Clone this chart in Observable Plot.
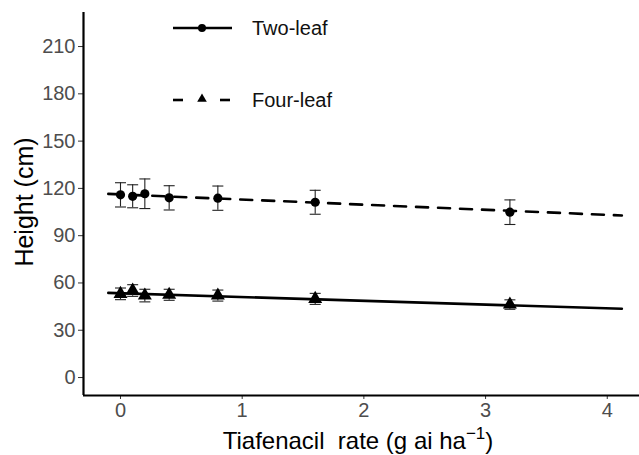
<!DOCTYPE html>
<html><head><meta charset="utf-8">
<script src="https://cdn.jsdelivr.net/npm/d3@7"></script>
<script src="https://cdn.jsdelivr.net/npm/@observablehq/plot@0.6"></script>
<style>body{margin:0;background:#fff;} svg{font-family:"Liberation Sans",Arial,sans-serif;}</style>
</head><body><div id="chart"></div>
<script>
const xVals = [0, 0.1, 0.2, 0.4, 0.8, 1.6, 3.2];
const circleMean = [115.9, 115.0, 116.6, 114.0, 113.8, 111.2, 104.9];
const circleErr = [7.7, 7.3, 9.4, 7.7, 7.7, 7.6, 7.8];
const triMean = [53.1, 55.2, 52.0, 52.5, 52.0, 49.9, 46.3];
const triErr = [3.7, 3.7, 4.0, 3.5, 3.5, 3.5, 3.0];
const fitX = [-0.1, 4.12];
const circleFit = [116.5, 102.8];
const triFit = [53.7, 43.6];
const xTicks = [0, 1, 2, 3, 4];
const yTicks = [0, 30, 60, 90, 120, 150, 180, 210];
const xDomain = [-0.304, 4.265];
const yDomain = [-11.4, 231.6];

const circ = xVals.map((x, i) => ({x, y: circleMean[i], lo: circleMean[i] - circleErr[i], hi: circleMean[i] + circleErr[i]}));
const tri = xVals.map((x, i) => ({x, y: triMean[i], lo: triMean[i] - triErr[i], hi: triMean[i] + triErr[i]}));
const circLine = fitX.map((x, i) => ({x, y: circleFit[i]}));
const triLine = fitX.map((x, i) => ({x, y: triFit[i]}));

const cap = {draw(ctx, size) { const w = 5.5; ctx.moveTo(-w, 0); ctx.lineTo(w, 0); }};
const errColor = "#222";

const chart = Plot.plot({
  width: 639, height: 455,
  marginLeft: 83, marginTop: 12, marginBottom: 60, marginRight: 0,
  x: {domain: xDomain},
  y: {domain: yDomain},
  marks: [
    Plot.axisY({ticks: yTicks, tickSize: 5, tickPadding: 3, fontSize: 20, fill: "#4d4d4d", stroke: "#333", label: null, tickFormat: d3.format("d")}),
    Plot.axisX({ticks: xTicks, tickSize: 4, tickPadding: 3, fontSize: 20, fill: "#4d4d4d", stroke: "#333", label: null, tickFormat: d3.format("d")}),
    Plot.line(circLine, {x: "x", y: "y", stroke: "black", strokeWidth: 2.6, strokeDasharray: "12,10"}),
    Plot.line(triLine, {x: "x", y: "y", stroke: "black", strokeWidth: 2.6}),
    Plot.ruleX(circ, {x: "x", y1: "lo", y2: "hi", stroke: errColor, strokeWidth: 1.1}),
    Plot.dot(circ, {x: "x", y: "lo", symbol: cap, stroke: errColor, strokeWidth: 1.1}),
    Plot.dot(circ, {x: "x", y: "hi", symbol: cap, stroke: errColor, strokeWidth: 1.1}),
    Plot.ruleX(tri, {x: "x", y1: "lo", y2: "hi", stroke: errColor, strokeWidth: 1.1}),
    Plot.dot(tri, {x: "x", y: "lo", symbol: cap, stroke: errColor, strokeWidth: 1.1}),
    Plot.dot(tri, {x: "x", y: "hi", symbol: cap, stroke: errColor, strokeWidth: 1.1}),
    Plot.dot(circ, {x: "x", y: "y", r: 4.6, fill: "black", stroke: "none"}),
    Plot.dot(tri, {x: "x", y: "y", r: 5.2, symbol: "triangle", fill: "black", stroke: "none"}),
    Plot.ruleX([xDomain[0]], {stroke: "black", strokeWidth: 2.2}),
    Plot.ruleY([yDomain[0]], {stroke: "black", strokeWidth: 2.2})
  ]
});

const svg = d3.select(chart);
// y axis title
svg.append("text").attr("transform", "translate(33,202) rotate(-90)")
  .attr("text-anchor", "middle").attr("font-size", 25).attr("fill", "black").text("Height (cm)");
// x axis title
const xt = svg.append("text").attr("x", 358).attr("y", 449).attr("text-anchor", "middle")
  .attr("font-size", 24).attr("fill", "black");
xt.append("tspan").text("Tiafenacil\u00a0 rate (g ai ha");
xt.append("tspan").attr("dy", -10).attr("font-size", 17).text("\u22121");
xt.append("tspan").attr("dy", 10).text(")");
// legend
const lg = svg.append("g").attr("text-anchor", "start");
lg.append("line").attr("x1", 173).attr("x2", 232).attr("y1", 28).attr("y2", 28).attr("stroke", "black").attr("stroke-width", 2.6);
lg.append("circle").attr("cx", 202).attr("cy", 28).attr("r", 4).attr("fill", "black");
lg.append("text").attr("x", 252).attr("y", 28).attr("dy", "0.35em").attr("font-size", 20).attr("fill", "#111").text("Two-leaf");
lg.append("line").attr("x1", 173).attr("x2", 183).attr("y1", 100).attr("y2", 100).attr("stroke", "black").attr("stroke-width", 2.6);
lg.append("line").attr("x1", 220).attr("x2", 230).attr("y1", 100).attr("y2", 100).attr("stroke", "black").attr("stroke-width", 2.6);
lg.append("path").attr("transform", "translate(202,99)").attr("d", d3.symbol(d3.symbolTriangle, 40)()).attr("fill", "black");
lg.append("text").attr("x", 252).attr("y", 100).attr("dy", "0.35em").attr("font-size", 20).attr("fill", "#111").text("Four-leaf");

document.getElementById("chart").appendChild(chart);
</script></body></html>
